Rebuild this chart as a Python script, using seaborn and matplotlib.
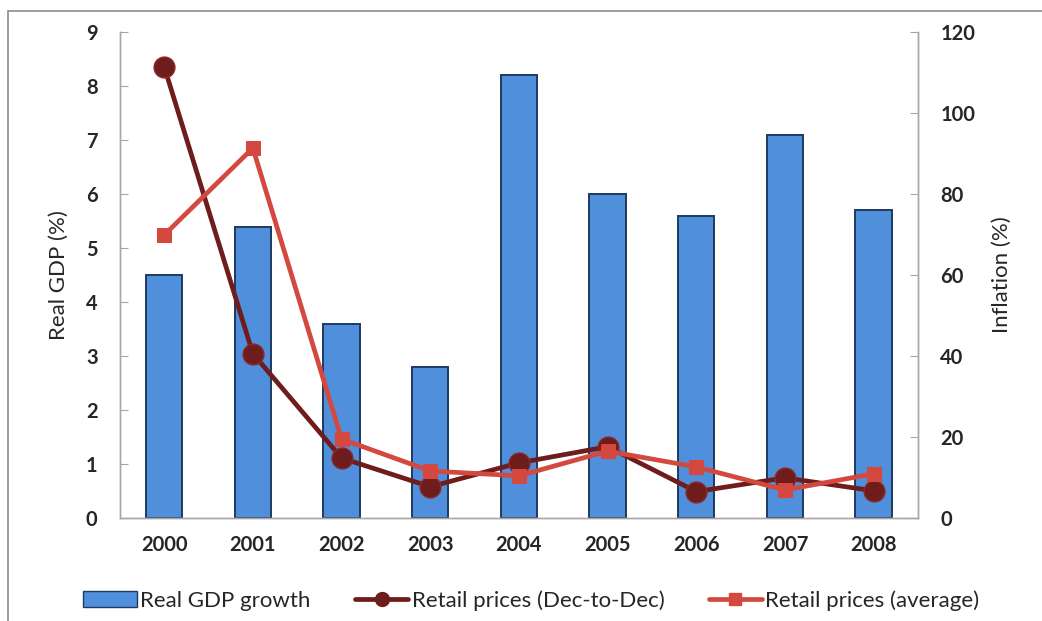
import numpy as np
import pandas as pd
import matplotlib
matplotlib.use("Agg")
import matplotlib.pyplot as plt
from matplotlib.patches import Rectangle, Patch
from matplotlib.lines import Line2D
import seaborn as sns

# ---- data ----
years = ["2000", "2001", "2002", "2003", "2004", "2005", "2006", "2007", "2008"]
gdp_growth = [4.5, 5.4, 3.6, 2.8, 8.2, 6.0, 5.6, 7.1, 5.7]
retail_dec = [111.5, 40.6, 14.8, 7.7, 13.6, 17.6, 6.5, 9.9, 6.7]
retail_avg = [69.9, 91.4, 19.5, 11.6, 10.4, 16.5, 12.6, 6.9, 10.9]

sns.set_style("white")
plt.rcParams['font.family'] = ['Lato', 'DejaVu Sans']

bar_color = "#4F8FDC"
dec_color = "#6E1C1C"
avg_color = "#D4493F"
axis_gray = "#A6A6A6"

df = pd.DataFrame({"year": years, "gdp": gdp_growth,
                   "dec": retail_dec, "avg": retail_avg,
                   "pos": np.arange(len(years))})

fig = plt.figure(figsize=(10.42, 6.21), dpi=100)
ax = fig.add_axes([0.115, 0.166, 0.766, 0.782])

sns.barplot(data=df, x="year", y="gdp", color=bar_color, width=0.41,
            saturation=1, edgecolor="#1E3A60", linewidth=1.4, ax=ax)

ax2 = ax.twinx()
sns.lineplot(data=df, x="pos", y="dec", color=dec_color, linewidth=3.4,
             marker="o", markersize=15, markeredgecolor="#8B2A2A",
             markeredgewidth=1, ax=ax2)
sns.lineplot(data=df, x="pos", y="avg", color=avg_color, linewidth=3.4,
             marker="s", markersize=10.5, markeredgecolor=avg_color, ax=ax2)

ax.set_xlim(-0.5, len(years) - 0.5)
ax.set_ylim(0, 9)
ax.set_yticks(range(0, 10))
ax2.set_ylim(0, 120)
ax2.set_yticks(range(0, 121, 20))

ax.set_xlabel("")
ax.set_ylabel("Real GDP (%)", fontsize=16, labelpad=12)
ax2.set_xlabel("")
ax2.set_ylabel("Inflation (%)", fontsize=16, labelpad=12)

for a in (ax, ax2):
    a.spines["top"].set_visible(False)
    for s in ("left", "right", "bottom"):
        a.spines[s].set_color(axis_gray)
        a.spines[s].set_linewidth(1)
    a.tick_params(axis="y", direction="in", length=6, color=axis_gray,
                  labelsize=14.5, pad=16)
    a.tick_params(axis="x", length=0, labelsize=14.5, pad=12)
    for lbl in a.get_yticklabels() + a.get_xticklabels():
        lbl.set_fontweight("bold")

# legend
handles = [
    Patch(facecolor=bar_color, edgecolor="#1E3A60", label="Real GDP growth"),
    Line2D([], [], color=dec_color, linewidth=3.4, marker="o", markersize=10,
           label="Retail prices (Dec-to-Dec)"),
    Line2D([], [], color=avg_color, linewidth=3.4, marker="s", markersize=9,
           label="Retail prices (average)"),
]
fig.legend(handles=handles, loc="center", bbox_to_anchor=(0.51, 0.033),
           ncol=3, frameon=False, fontsize=16, columnspacing=2.0,
           handlelength=2.4, handletextpad=0.15)

# outer frame
fig.patches.append(Rectangle((0.008, -0.05), 1.1, 1.032, transform=fig.transFigure,
                             fill=False, edgecolor="#8C8C8C", linewidth=1.2))

fig.savefig("out.png", dpi=100)
